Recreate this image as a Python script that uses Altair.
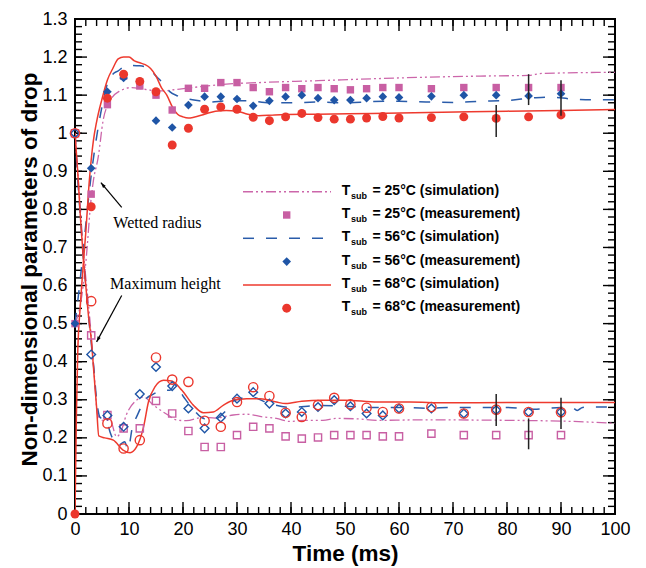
import math
import altair as alt
import pandas as pd

# ---------------- data ----------------
t_meas = [0, 3, 6, 9, 12, 15, 18, 21, 24, 27, 30, 33, 36, 39, 42, 45, 48, 51, 54, 57, 60, 66, 72, 78, 84, 90]

# wetted radius (filled markers)
rad25_meas = [0.50, 0.84, 1.075, 1.15, 1.124, 1.10, 1.061, 1.118, 1.118, 1.133, 1.133, 1.12, 1.109,
              1.12, 1.117, 1.12, 1.117, 1.114, 1.117, 1.12, 1.12, 1.117, 1.12, 1.12, 1.12, 1.12]
rad56_meas = [0.50, 0.908, 1.109, 1.145, 1.136, 1.033, 1.015, 1.074, 1.096, 1.096, 1.09, 1.072, 1.085,
              1.096, 1.10, 1.092, 1.087, 1.087, 1.092, 1.096, 1.094, 1.097, 1.10, 1.10, 1.098, 1.104]
rad68_meas = [0.0, 0.807, 1.092, 1.155, 1.136, 1.109, 0.969, 1.013, 1.063, 1.069, 1.063, 1.042, 1.033,
              1.043, 1.052, 1.041, 1.037, 1.037, 1.040, 1.044, 1.040, 1.041, 1.043, 1.039, 1.043, 1.048]

# maximum height (open markers)
hgt25_meas = [1.0, 0.469, 0.26, 0.225, 0.225, 0.297, 0.264, 0.218, 0.176, 0.176, 0.207, 0.229, 0.225,
              0.204, 0.198, 0.201, 0.207, 0.207, 0.207, 0.204, 0.204, 0.211, 0.207, 0.207, 0.207, 0.207]
hgt56_meas = [1.0, 0.419, 0.259, 0.229, 0.315, 0.386, 0.336, 0.277, 0.225, 0.253, 0.303, 0.32, 0.29,
              0.264, 0.268, 0.281, 0.299, 0.283, 0.264, 0.259, 0.277, 0.277, 0.264, 0.273, 0.268, 0.268]
hgt68_meas = [1.0, 0.559, 0.238, 0.172, 0.194, 0.411, 0.353, 0.347, 0.245, 0.229, 0.294, 0.333, 0.31,
              0.266, 0.255, 0.286, 0.305, 0.288, 0.279, 0.268, 0.277, 0.281, 0.264, 0.274, 0.268, 0.267]

# error bars
err_t = [78, 84, 90]
err_rad_lo = [0.99, 1.074, 1.046]
err_rad_hi = [1.074, 1.155, 1.139]
err_hgt_lo = [0.231, 0.170, 0.223]
err_hgt_hi = [0.315, 0.251, 0.305]

# simulations: wetted radius
t_rad25 = [0, 1, 2, 3, 3.4, 4.3, 5.2, 6.5, 8.3, 10.5, 12.6, 15.7, 19.4, 23, 28, 34, 45, 55, 67.6, 75, 84, 86.5, 100]
v_rad25 = [0.5, 0.55, 0.66, 0.83, 0.875, 0.937, 1.033, 1.085, 1.111, 1.12, 1.116, 1.111, 1.116, 1.122,
           1.129, 1.133, 1.138, 1.143, 1.148, 1.15, 1.152, 1.157, 1.16]
t_rad56 = [0, 1, 2, 3, 4, 5, 6, 7, 8, 9, 10, 12, 13.5, 15, 16.5, 17.5, 19, 21, 23, 25, 28, 32, 36, 40,
           45, 50, 55, 60, 65, 70, 75, 80, 85, 88, 92, 96, 100]
v_rad56 = [0.5, 0.62, 0.76, 0.89, 0.99, 1.07, 1.13, 1.155, 1.164, 1.174, 1.178, 1.177, 1.172, 1.15,
           1.128, 1.11, 1.098, 1.09, 1.085, 1.082, 1.085, 1.085, 1.08, 1.08, 1.082, 1.08, 1.083, 1.084,
           1.082, 1.081, 1.084, 1.086, 1.093, 1.095, 1.09, 1.088, 1.088]
t_rad68 = [0, 0.25, 0.5, 1, 1.5, 2, 2.65, 3.4, 4, 5, 6, 7, 8, 9, 10, 11, 12, 13, 14, 15, 16, 17, 18, 19,
           20, 21, 22, 24, 26, 28, 30, 32, 34, 37, 45, 55, 68, 80, 90, 100]
v_rad68 = [0, 0.25, 0.42, 0.55, 0.65, 0.74, 0.875, 0.98, 1.03, 1.09, 1.14, 1.17, 1.195, 1.2, 1.2, 1.19,
           1.185, 1.18, 1.17, 1.15, 1.12, 1.10, 1.07, 1.05, 1.043, 1.04, 1.042, 1.05, 1.058, 1.06, 1.058,
           1.05, 1.046, 1.048, 1.05, 1.052, 1.055, 1.058, 1.06, 1.062]

# simulations: maximum height
t_hgt25 = [0, 0.5, 1, 1.5, 2, 2.5, 3, 3.5, 4.2, 5.2, 6.5, 7.7, 8.5, 9.5, 11.4, 12.7, 14.5, 17, 18.8, 20.6,
           23.7, 26, 29.3, 31.8, 34.8, 37.3, 39.8, 42.3, 45.9, 48.4, 52, 56.4, 62.6, 68.8, 80, 92.4, 100]
v_hgt25 = [1.0, 0.9, 0.8, 0.7, 0.62, 0.55, 0.47, 0.38, 0.26, 0.246, 0.246, 0.203, 0.216, 0.26, 0.299,
           0.307, 0.286, 0.262, 0.247, 0.245, 0.254, 0.252, 0.26, 0.262, 0.255, 0.251, 0.243, 0.246, 0.246,
           0.251, 0.25, 0.246, 0.247, 0.247, 0.246, 0.243, 0.238]
t_hgt56 = [0, 0.5, 1, 1.5, 2, 2.5, 3, 3.5, 4, 4.6, 5.9, 6.5, 7.1, 8, 9.2, 9.8, 10.7, 11.4, 13, 14.5, 16.4,
           17.6, 18.5, 20, 22, 24, 26, 28, 29.6, 32.6, 36, 40, 45, 50, 55, 60, 65, 70, 75, 80, 85, 90, 92,
           93, 94, 96, 100]
v_hgt56 = [1.0, 0.88, 0.78, 0.68, 0.6, 0.52, 0.45, 0.38, 0.3, 0.255, 0.242, 0.215, 0.194, 0.18, 0.19, 0.17,
           0.233, 0.255, 0.3, 0.315, 0.325, 0.325, 0.34, 0.31, 0.273, 0.25, 0.25, 0.272, 0.299, 0.307, 0.29,
           0.28, 0.285, 0.283, 0.28, 0.28, 0.278, 0.28, 0.28, 0.28, 0.275, 0.28, 0.28, 0.272, 0.28, 0.281, 0.281]
t_hgt68 = [0, 0.5, 1, 1.5, 2, 2.5, 3, 3.5, 4, 4.4, 5.5, 7.1, 8.9, 10.2, 11.4, 12.7, 13.6, 14.8, 16.4, 17.9,
           19.8, 21.9, 23.8, 25.6, 27.5, 29.3, 31.8, 34.3, 37.3, 39, 42, 45.6, 50, 56, 62, 68.6, 80, 90, 100]
v_hgt68 = [1.0, 0.9, 0.78, 0.68, 0.6, 0.52, 0.46, 0.37, 0.28, 0.205, 0.2, 0.194, 0.168, 0.161, 0.176, 0.229,
           0.294, 0.334, 0.351, 0.349, 0.325, 0.286, 0.266, 0.268, 0.286, 0.299, 0.303, 0.303, 0.294, 0.29,
           0.296, 0.299, 0.299, 0.294, 0.294, 0.292, 0.293, 0.293, 0.293]

# tick values
x_major = list(range(0, 101, 10))
x_minor = list(range(0, 101, 2))
y_major = [round(i * 0.1, 1) for i in range(14)]
y_minor = [round(i * 0.02, 2) for i in range(66)]

legend_labels = ["25°C (simulation)", "25°C (measurement)", "56°C (simulation)",
                 "56°C (measurement)", "68°C (simulation)", "68°C (measurement)"]

# annotations: (text, text_t, text_v, tail_t, tail_v, tip_t, tip_v)
annotations = [
    ("Wetted radius", 7.1, 0.764, 8.65, 0.805, 4.8, 0.87),
    ("Maximum height", 6.5, 0.603, 8.65, 0.574, 4.0, 0.452),
]

# ---------------- styling ----------------
W, H = 540, 495
X_DOM, Y_DOM = [0, 100], [0, 1.3]
FONT = "Liberation Sans"
PINK, BLUE, RED = "#C85FA3", "#1F55A6", "#EB372D"
LPINK, LBLUE, LRED = "#CC66AA", "#2A5CAA", "#EE3A2E"
DASH25 = [10, 3, 2, 3, 2, 3]
DASH56 = [11, 12]

xs = alt.Scale(domain=X_DOM, nice=False, zero=False)
ys = alt.Scale(domain=Y_DOM, nice=False, zero=False)
x_axis = alt.Axis(values=x_major, title="Time (ms)", ticks=False, domain=False, grid=False,
                  labelFontSize=18, labelPadding=6, labelOverlap=False, labelFlush=False,
                  titleX=W / 2, titleY=46, titleBaseline="alphabetic", titleAlign="center")
y_axis = alt.Axis(values=y_major, format="~g", title="Non-dimensional parameters of drop",
                  ticks=False, domain=False, grid=False, labelFontSize=18, labelPadding=8,
                  labelOverlap=False, labelFlush=False,
                  titleX=-46, titleY=250, titleBaseline="middle", titleAlign="center", titleAngle=-90)


def X(f):
    return alt.X(f, type="quantitative", scale=xs, axis=x_axis)


def Y(f):
    return alt.Y(f, type="quantitative", scale=ys, axis=y_axis)


layers = []

# axis ticks (inward, all four sides)
for vals, ln in ((x_minor, 7), (x_major, 12)):
    d = pd.DataFrame({"t": vals})
    layers.append(alt.Chart(d).mark_rule(color="black", strokeWidth=1.4).encode(
        x=X("t"), y=alt.value(H), y2=alt.value(H - ln)))
    layers.append(alt.Chart(d).mark_rule(color="black", strokeWidth=1.4).encode(
        x=X("t"), y=alt.value(0), y2=alt.value(ln)))
for vals, ln in ((y_minor, 7), (y_major, 12)):
    d = pd.DataFrame({"v": vals})
    layers.append(alt.Chart(d).mark_rule(color="black", strokeWidth=1.4).encode(
        y=Y("v"), x=alt.value(0), x2=alt.value(ln)))
    layers.append(alt.Chart(d).mark_rule(color="black", strokeWidth=1.4).encode(
        y=Y("v"), x=alt.value(W), x2=alt.value(W - ln)))

# simulation lines
sims = [
    (t_rad25, v_rad25, LPINK, DASH25, 1.3),
    (t_hgt25, v_hgt25, LPINK, DASH25, 1.3),
    (t_rad56, v_rad56, LBLUE, DASH56, 1.5),
    (t_hgt56, v_hgt56, LBLUE, DASH56, 1.5),
    (t_rad68, v_rad68, LRED, None, 1.5),
    (t_hgt68, v_hgt68, LRED, None, 1.5),
]
for tt, vv, col, dash, sw in sims:
    d = pd.DataFrame({"t": tt, "v": vv})
    kw = dict(color=col, strokeWidth=sw, interpolate="monotone", clip=True)
    if dash:
        kw["strokeDash"] = dash
    layers.append(alt.Chart(d).mark_line(**kw).encode(x=X("t"), y=Y("v"), order="t:Q"))

# measurements
meas = pd.DataFrame({"t": t_meas, "r25": rad25_meas, "r56": rad56_meas, "r68": rad68_meas,
                     "h25": hgt25_meas, "h56": hgt56_meas, "h68": hgt68_meas})
layers.append(alt.Chart(meas).mark_point(shape="square", filled=False, color=PINK, size=52,
                                         strokeWidth=1.4, opacity=1).encode(x=X("t"), y=Y("h25")))
layers.append(alt.Chart(meas).mark_point(shape="diamond", filled=False, color=BLUE, size=75,
                                         strokeWidth=1.4, opacity=1).encode(x=X("t"), y=Y("h56")))
layers.append(alt.Chart(meas).mark_point(shape="circle", filled=False, color=RED, size=85,
                                         strokeWidth=1.4, opacity=1).encode(x=X("t"), y=Y("h68")))
layers.append(alt.Chart(meas).mark_point(shape="square", filled=True, color=PINK, size=55, opacity=1)
              .encode(x=X("t"), y=Y("r25")))
layers.append(alt.Chart(meas).mark_point(shape="diamond", filled=True, color=BLUE, size=75, opacity=1)
              .encode(x=X("t"), y=Y("r56")))
layers.append(alt.Chart(meas).mark_point(shape="circle", filled=True, color=RED, size=80, opacity=1)
              .encode(x=X("t"), y=Y("r68")))

# error bars
err = pd.DataFrame({"t": err_t + err_t, "lo": err_rad_lo + err_hgt_lo, "hi": err_rad_hi + err_hgt_hi})
layers.append(alt.Chart(err).mark_rule(color="#222222", strokeWidth=1.5).encode(
    x=X("t"), y=Y("lo"), y2=alt.Y2("hi")))

# annotations with arrows
px_per_t = W / (X_DOM[1] - X_DOM[0])
px_per_v = H / (Y_DOM[1] - Y_DOM[0])
ann_rows = []
for text, tx, tv, at, av, ht, hv in annotations:
    dx = (ht - at) * px_per_t
    dy = -(hv - av) * px_per_v
    ang = math.degrees(math.atan2(dx, -dy)) % 360
    ann_rows.append(dict(text=text, tx=tx, tv=tv, at=at, av=av, ht=ht, hv=hv, ang=ang))
ann = pd.DataFrame(ann_rows)
layers.append(alt.Chart(ann).mark_text(font="Liberation Serif", fontSize=16, align="left",
                                       baseline="middle", color="black")
              .encode(x=X("tx"), y=Y("tv"), text="text:N"))
layers.append(alt.Chart(ann).mark_rule(color="black", strokeWidth=1.2).encode(
    x=X("at"), y=Y("av"), x2=alt.X2("ht"), y2=alt.Y2("hv")))
arrow_path = "M0,0 L-0.55,1.7 L0.55,1.7 Z"
layers.append(alt.Chart(ann).mark_point(shape=arrow_path, filled=True, color="black", size=40, opacity=1)
              .encode(x=X("ht"), y=Y("hv"), angle=alt.Angle("ang:Q", scale=None)))

# manual legend (subscript text)
one = alt.Data(values=[{"k": 0}])
row0, dy_row = 171.7, 23.3
line_x0, line_x1, sym_x = 168, 256, 211.7
tx_T, tx_sub, tx_rest = 266.7, 276.0, 297.5
leg_styles = [
    ("line", LPINK, DASH25, None),
    ("sym", PINK, None, "square"),
    ("line", LBLUE, DASH56, None),
    ("sym", BLUE, None, "diamond"),
    ("line", LRED, None, None),
    ("sym", RED, None, "circle"),
]
for i, (lab, (kind, col, dash, shp)) in enumerate(zip(legend_labels, leg_styles)):
    ry = row0 + i * dy_row
    if kind == "line":
        kw = dict(color=col, strokeWidth=1.5)
        if dash:
            kw["strokeDash"] = dash
        layers.append(alt.Chart(one).mark_rule(**kw).encode(
            x=alt.value(line_x0), x2=alt.value(line_x1), y=alt.value(ry + 1)))
    else:
        sz = {"square": 55, "diamond": 75, "circle": 80}[shp]
        layers.append(alt.Chart(one).mark_point(shape=shp, filled=True, color=col, size=sz, opacity=1)
                      .encode(x=alt.value(sym_x), y=alt.value(ry + 1)))
    layers.append(alt.Chart(one).mark_text(text="T", font=FONT, fontSize=14, fontWeight="bold",
                                           align="left", baseline="middle", color="black")
                  .encode(x=alt.value(tx_T), y=alt.value(ry)))
    layers.append(alt.Chart(one).mark_text(text="sub", font=FONT, fontSize=9, fontWeight="bold",
                                           align="left", baseline="middle", color="black")
                  .encode(x=alt.value(tx_sub), y=alt.value(ry + 5)))
    layers.append(alt.Chart(one).mark_text(text="= " + lab, font=FONT, fontSize=14, fontWeight="bold",
                                           align="left", baseline="middle", color="black")
                  .encode(x=alt.value(tx_rest), y=alt.value(ry)))

chart = (
    alt.layer(*layers)
    .properties(width=W, height=H, background="white",
                padding={"left": 75, "top": 19, "right": 31, "bottom": 54},
                autosize=alt.AutoSizeParams(type="none"))
    .configure_view(stroke="black", strokeWidth=2)
    .configure_axis(labelFont=FONT, titleFont=FONT, labelColor="black", titleColor="black",
                    titleFontSize=22.5, titleFontWeight="bold")
)

chart.save("out.html", embed_options={"renderer": "svg", "actions": False})
